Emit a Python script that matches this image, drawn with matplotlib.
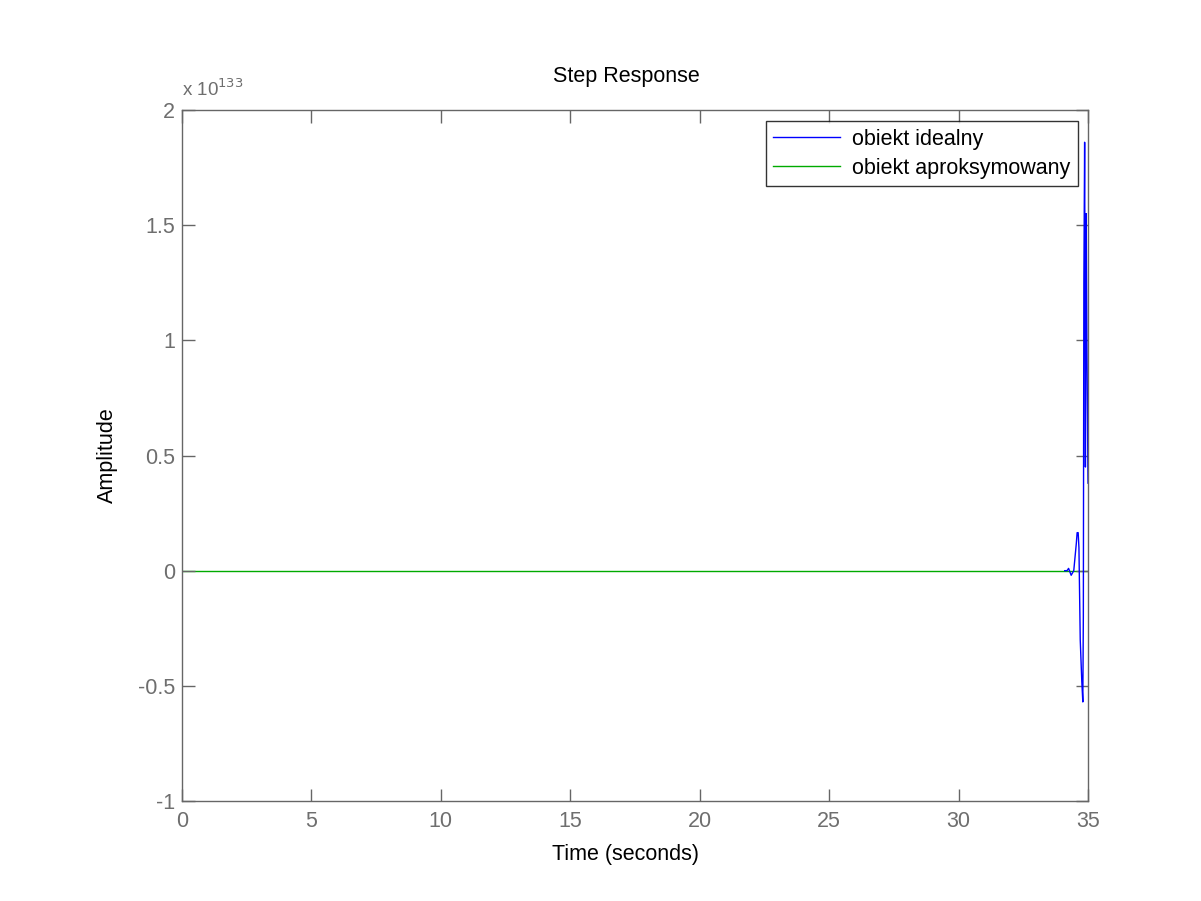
import matplotlib.pyplot as plt

plt.rcParams['font.family'] = ['Liberation Sans', 'DejaVu Sans']

# time (s) and amplitude (in units of 1e133)
t_ideal = [34.1, 34.19, 34.25, 34.3, 34.35, 34.45, 34.55, 34.58, 34.62, 34.65,
           34.7, 34.76, 34.8, 34.82, 34.84, 34.87, 34.9, 34.93, 34.96, 35.0]
y_ideal = [0.0, 0.0, 0.01, -0.005, -0.02, 0.0, 0.12, 0.165, 0.165, 0.1,
           -0.3, -0.48, -0.57, -0.2, 1.25, 1.86, 0.45, 1.55, 0.96, 0.38]

t_approx = [0.0, 35.0]
y_approx = [0.0, 0.0]

x_ticks = [0, 5, 10, 15, 20, 25, 30, 35]
y_ticks = [-1, -0.5, 0, 0.5, 1, 1.5, 2]
y_tick_labels = ['-1', '-0.5', '0', '0.5', '1', '1.5', '2']

axis_gray = '#666666'
label_gray = '#6e6e6e'

fig = plt.figure(figsize=(12.01, 9.01), dpi=100)
ax = fig.add_axes([182 / 1201, 1 - 801 / 901, 906 / 1201, 691 / 901])

ax.plot(t_ideal, y_ideal, color='#0000ff', linewidth=1.0, label='obiekt idealny',
        zorder=2)
ax.plot(t_approx, y_approx, color='#00aa00', linewidth=1.0,
        label='obiekt aproksymowany', zorder=1.5)

ax.set_xlim(0, 35)
ax.set_ylim(-1, 2)
ax.set_xticks(x_ticks)
ax.set_yticks(y_ticks)
ax.set_yticklabels(y_tick_labels)

for side in ax.spines.values():
    side.set_color(axis_gray)
    side.set_linewidth(1.0)
ax.tick_params(direction='in', length=9, width=1, color=axis_gray,
               labelcolor=label_gray, labelsize=15.5, top=True, right=True)
ax.tick_params(axis='x', pad=7)
ax.tick_params(axis='y', pad=5)

# MATLAB puts the title and xlabel a little left of the axes centre
ax.set_xlabel('Time (seconds)', fontsize=15.5, labelpad=9, x=0.49)
ax.set_ylabel('Amplitude', fontsize=15.5, labelpad=14)
ax.set_title('Step Response', fontsize=15.5, pad=20, x=0.49)

ax.text(0.0, 1.014, r'x 10$^{133}$', transform=ax.transAxes, fontsize=13.5,
        color=label_gray, ha='left', va='bottom')

leg = ax.legend(loc='upper right', bbox_to_anchor=(1 - 10 / 906, 1 - 11 / 691),
                fontsize=15.5, frameon=True, fancybox=False, borderaxespad=0,
                handlelength=3.1, handletextpad=0.56, borderpad=0.35,
                labelspacing=0.37, handleheight=0.6)
leg.get_frame().set_edgecolor('black')
leg.get_frame().set_linewidth(1.0)

fig.savefig('out.png', dpi=100, facecolor='white')
